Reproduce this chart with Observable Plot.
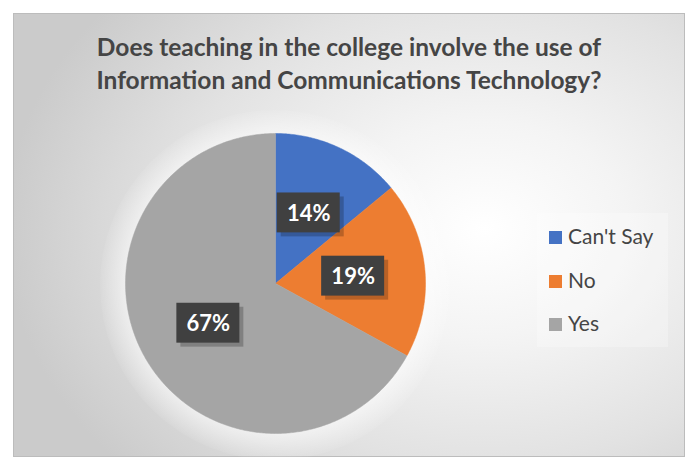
<!DOCTYPE html>
<html>
<head>
<meta charset="utf-8">
<script src="https://cdn.jsdelivr.net/npm/d3@7"></script>
<script src="https://cdn.jsdelivr.net/npm/@observablehq/plot@0.6"></script>
<style>
  html, body { margin: 0; padding: 0; background: #fff; }
  #wrap { position: relative; width: 691px; height: 458px; overflow: hidden; font-family: Lato, "Open Sans", sans-serif; }
  #frame {
    position: absolute; left: 13px; top: 13px; width: 670px; height: 442px;
    border: 1px solid #bcbcbc;
    background: radial-gradient(ellipse 480px 360px at 470px 215px, #ffffff 0%, #f4f4f4 30%, #e2e2e2 65%, #cbcbcb 100%);
  }
  #halo {
    position: absolute; left: 100px; top: 110px; width: 350px; height: 350px; border-radius: 50%;
    background: radial-gradient(circle, rgba(255,255,255,0.55) 60%, rgba(255,255,255,0) 72%);
  }
  #title {
    position: absolute; left: 0; top: 30px; width: 698px; text-align: center;
    font-weight: bold; font-size: 24.5px; line-height: 33px; color: #454545;
  }
  #legendbox { position: absolute; left: 537px; top: 213px; width: 131px; height: 134px; background: rgba(255,255,255,0.25); }
  #legend { position: absolute; left: 549px; top: 223px; }
  .item { height: 43.5px; display: flex; align-items: flex-start; font-size: 21px; color: #454545; }
  .sw { width: 13px; height: 13px; margin-top: 8px; margin-right: 6px; }
  #chart { position: absolute; left: 0; top: 0; }
</style>
</head>
<body>
<div id="wrap">
  <div id="frame"></div>
  <div id="halo"></div>
  <div id="legendbox"></div>
  <div id="title"></div>
  <div id="legend"></div>
  <div id="chart"></div>
</div>
<script>
const titleLines = ["Does teaching in the college involve the use of", "Information and Communications Technology?"];
const categories = ["Can't Say", "No", "Yes"];
const values = [14, 19, 67];
const labels = ["14%", "19%", "67%"];
const colors = ["#4472C4", "#ED7D31", "#A5A5A5"];

document.getElementById("title").innerHTML = titleLines.join("<br>");
const legend = document.getElementById("legend");
categories.forEach((c, i) => {
  const d = document.createElement("div");
  d.className = "item";
  d.innerHTML = `<span class="sw" style="background:${colors[i]}"></span><span>${c}</span>`;
  legend.appendChild(d);
});

const arcs = d3.pie().sort(null).value(d => d.value)(categories.map((c, i) => ({key: c, value: values[i], label: labels[i]})));
const pts = [];
for (const a of arcs) {
  pts.push({key: a.data.key, x: 0, y: 0});
  const n = Math.max(2, Math.ceil((a.endAngle - a.startAngle) / 0.01));
  for (let k = 0; k <= n; k++) {
    const t = a.startAngle + (a.endAngle - a.startAngle) * k / n;
    pts.push({key: a.data.key, x: Math.sin(t), y: Math.cos(t)});
  }
  pts.push({key: a.data.key, x: 0, y: 0});
}
const lbl = arcs.map(a => {
  const m = (a.startAngle + a.endAngle) / 2;
  return {label: a.data.label, x: 0.52 * Math.sin(m), y: 0.52 * Math.cos(m)};
});
const bw = 0.21, bh = 0.133;

const R = 150, cx = 275, cy = 283, W = 691, H = 458;
const plot = Plot.plot({
  width: W, height: H,
  margin: 0,
  x: {domain: [-cx / R, (W - cx) / R], axis: null},
  y: {domain: [-(H - cy) / R, cy / R], axis: null},
  color: {domain: categories, range: colors},
  style: {background: "transparent", overflow: "visible"},
  marks: [
    Plot.line(pts, {x: "x", y: "y", z: "key", fill: "key", stroke: "key", strokeWidth: 0.5, curve: "linear"}),
    Plot.rect(lbl, {x1: d => d.x - bw, x2: d => d.x + bw, y1: d => d.y - bh, y2: d => d.y + bh, fill: "#000", fillOpacity: 0.22, dx: 4, dy: 4}),
    Plot.rect(lbl, {x1: d => d.x - bw, x2: d => d.x + bw, y1: d => d.y - bh, y2: d => d.y + bh, fill: "#404040"}),
    Plot.text(lbl, {x: "x", y: "y", text: "label", fill: "white", fontWeight: "bold", fontSize: 22, fontFamily: "Lato, sans-serif", dy: 1})
  ]
});
document.getElementById("chart").appendChild(plot);
</script>
</body>
</html>
